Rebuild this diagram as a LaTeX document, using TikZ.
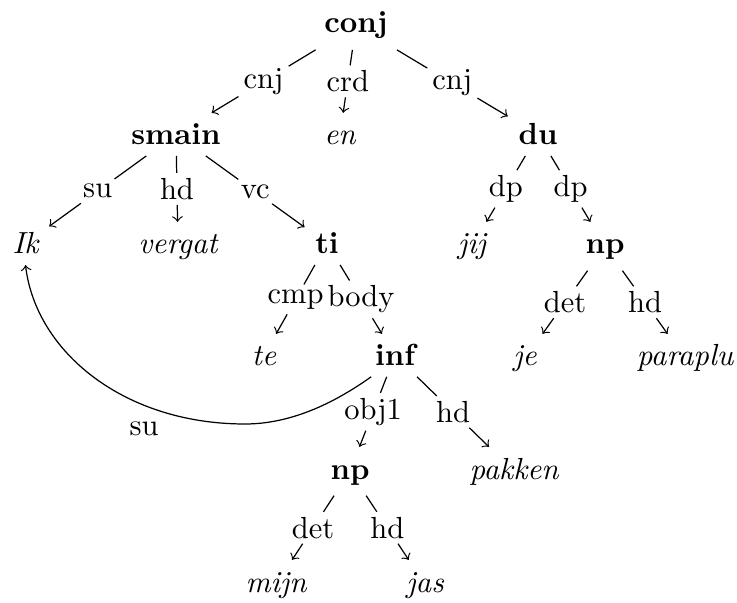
\documentclass[tikz,border=0pt]{standalone}
\usetikzlibrary{calc}
\newcommand\depedge[4]{%
  \path (#1) -- node[lab,midway] (#3) {#4} (#2);
  \draw[conn] (#1) -- (#3);
  \draw[conn,->] (#3) -- (#2);
}
\begin{document}
\begin{tikzpicture}[x=0.32787pt,y=-0.32787pt,
  cat/.style={font=\bfseries,anchor=base,text height=7pt,inner sep=3.33pt},
  wrd/.style={font=\itshape,anchor=base,text height=7pt,inner sep=3.33pt},
  lab/.style={inner sep=1.5pt},
  conn/.style={line width=0.4pt},
  ]
\useasboundingbox (0,0) rectangle (737,603);
% level 0
\node[cat] (conj) at (356,33) {conj};
% level 1
\node[cat] (smain) at (176,145) {smain};
\node[wrd] (en) at (340,145) {en};
\node[cat] (du) at (538,145) {du};
% level 2
\node[wrd] (Ik) at (25.5,254) {Ik};
\node[wrd] (vergat) at (178,254) {vergat};
\node[cat] (ti) at (327,254) {ti};
\node[wrd] (jij) at (472,254) {jij};
\node[cat] (npA) at (605,254) {np};
% level 3
\node[wrd] (te) at (264,366) {te};
\node[cat] (inf) at (395,366) {inf};
\node[wrd] (je) at (525,366) {je};
\node[wrd] (paraplu) at (685,366) {paraplu};
% level 4
\node[cat] (npB) at (350,479) {np};
\node[wrd] (pakken) at (514,479) {pakken};
% level 5
\node[wrd] (mijn) at (276,592) {mijn};
\node[wrd] (jas) at (425,592) {jas};
% edges
\depedge{conj}{smain}{l1}{cnj}
\depedge{conj}{en}{l2}{crd}
\depedge{conj}{du}{l3}{cnj}
\depedge{smain}{Ik}{l4}{su}
\depedge{smain}{vergat}{l5}{hd}
\depedge{smain}{ti}{l6}{vc}
\depedge{du}{jij}{l7}{dp}
\depedge{du}{npA}{l8}{dp}
\depedge{ti}{te}{l9}{cmp}
\depedge{ti}{inf}{l10}{body}
\depedge{npA}{je}{l11}{det}
\depedge{npA}{paraplu}{l12}{hd}
\depedge{inf}{npB}{l13}{obj1}
\depedge{inf}{pakken}{l14}{hd}
\depedge{npB}{mijn}{l15}{det}
\depedge{npB}{jas}{l16}{hd}
% secondary edge
\coordinate (cbot) at (245,424);
\draw[conn,->] (inf.222) .. controls (333,404) and (290,424) .. (cbot)
  .. controls (124,424) and (36,352) .. (Ik.south);
\node[lab,anchor=base] (l17) at (144,435) {su};
\end{tikzpicture}
\end{document}
